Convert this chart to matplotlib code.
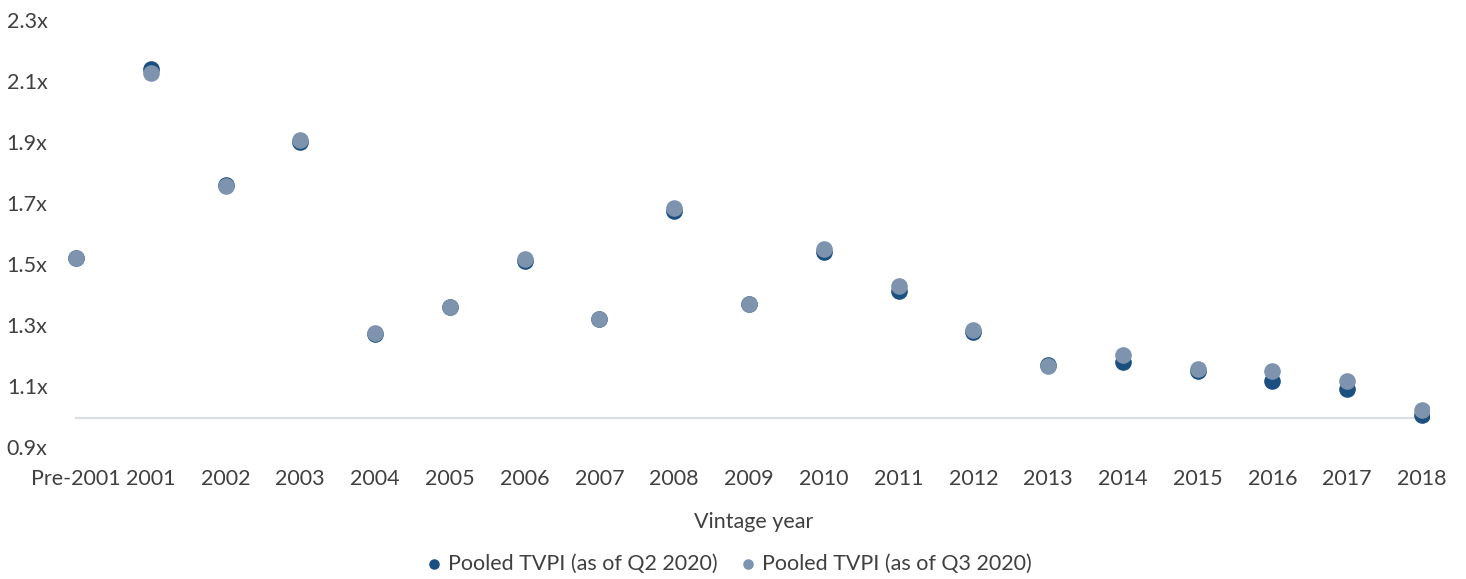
import matplotlib.pyplot as plt

plt.rcParams['font.family'] = ['Lato', 'DejaVu Sans']

# Data
vintages = ['Pre-2001', '2001', '2002', '2003', '2004', '2005', '2006', '2007', '2008',
            '2009', '2010', '2011', '2012', '2013', '2014', '2015', '2016', '2017', '2018']
tvpi_q2 = [1.52, 2.14, 1.76, 1.90, 1.27, 1.36, 1.51, 1.32, 1.675,
           1.37, 1.54, 1.41, 1.276, 1.17, 1.18, 1.15, 1.115, 1.09, 1.005]
tvpi_q3 = [1.52, 2.125, 1.755, 1.905, 1.275, 1.36, 1.515, 1.32, 1.683,
           1.37, 1.548, 1.428, 1.284, 1.165, 1.203, 1.155, 1.148, 1.117, 1.02]
yticks = [0.9, 1.1, 1.3, 1.5, 1.7, 1.9, 2.1, 2.3]

dark = '#1B4F80'
light = '#7D93AE'
text_col = '#404040'

fig = plt.figure(figsize=(14.66, 5.79), dpi=100)
ax = fig.add_axes([0.0467, 0.228, 0.9284, 0.7375])

x = list(range(len(vintages)))
ax.axhline(0.995, xmin=0.1 / 18.2, xmax=18.1 / 18.2, color='#D9DEE4', lw=1.6, zorder=1)
ax.scatter(x, tvpi_q2, s=120, color=dark, label='Pooled TVPI (as of Q2 2020)', zorder=2)
ax.scatter(x, tvpi_q3, s=120, color=light, label='Pooled TVPI (as of Q3 2020)', zorder=3)

ax.set_xlim(-0.1, 18.1)
ax.set_ylim(0.9, 2.3)
ax.set_xticks(x)
ax.set_xticklabels(vintages)
ax.set_yticks(yticks)
ax.set_yticklabels([f'{v:.1f}x' for v in yticks])
ax.tick_params(length=0, labelsize=15.5, labelcolor=text_col)
ax.tick_params(axis='x', pad=16)
ax.tick_params(axis='y', pad=15)
for s in ax.spines.values():
    s.set_visible(False)

fig.text(0.514, 0.099, 'Vintage year', ha='center', va='center', fontsize=15.5, color=text_col)

fig.legend(loc='center', bbox_to_anchor=(0.497, 0.026), ncol=2, frameon=False,
           fontsize=15.5, labelcolor=text_col, markerscale=0.6, handletextpad=0.25,
           columnspacing=1.0, handlelength=0.8)

fig.savefig('out.png', dpi=100)
